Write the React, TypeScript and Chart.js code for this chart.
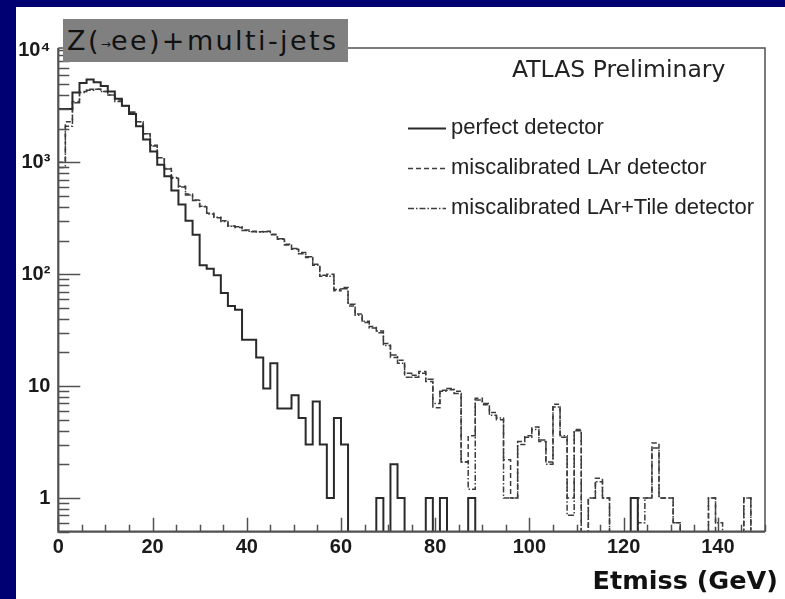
import React, { useEffect, useRef } from "react";
import { Chart, registerables } from "chart.js";

Chart.register(...registerables);

// ---------- data ----------
const BIN_WIDTH = 1.5; // GeV per bin, 100 bins from 0 to 150
const X_MIN = 0;
const X_MAX = 150;
const Y_MIN = 0.5;
const Y_MAX = 10500;
const X_TICKS = [0, 20, 40, 60, 80, 100, 120, 140];
const Y_TICKS = [1, 10, 100, 1000, 10000];
const Y_TICK_LABELS = ["1", "10", "10²", "10³", "10⁴"];
const SERIES_LABELS = [
  "perfect detector",
  "miscalibrated LAr detector",
  "miscalibrated LAr+Tile detector",
];

const perfect = [
  3000, 3000, 4200, 5100, 5500, 5200, 4800, 4300, 3700, 3200,
  2700, 2100, 1600, 1250, 950, 750, 560, 420, 300, 225,
  120, 112, 98, 68, 52, 48, 26, 26, 18, 9.5,
  16, 6.3, 6.3, 8.3, 5.2, 3, 7.3, 3, 1, 5.2,
  3, 0, 0, 0, 0, 1, 0, 2, 1, 0,
  0, 0, 1, 0, 1, 0, 0, 0, 1, 0,
  0, 0, 0, 0, 0, 0, 0, 0, 0, 0,
  0, 0, 0, 0, 0, 0, 0, 0, 0, 0,
  0, 1, 0, 0, 0, 0, 0, 0, 0, 0,
  0, 0, 0, 0, 0, 0, 0, 0, 0, 0,
];

const larMiscalibrated = [
  1000, 2300, 3500, 4300, 4500, 4500, 4300, 4000, 3600, 3200,
  2800, 2300, 1800, 1400, 1100, 880, 720, 610, 520, 460,
  400, 350, 320, 300, 270, 262, 248, 240, 240, 242,
  228, 205, 185, 167, 156, 141, 123, 96, 100, 71,
  76, 52, 44, 37, 34, 30, 24, 18, 17, 12,
  12.5, 13.5, 11, 6.4, 9.2, 9.3, 9, 2.1, 3.6, 7.8,
  6.8, 5.8, 5, 2.2, 1, 3, 3.6, 4.3, 3.2, 2.1,
  6.9, 3.5, 1, 4.1, 0, 1, 1.5, 1, 0, 0,
  0, 0, 1, 1, 3.1, 1, 1, 0.6, 0, 0,
  0, 0, 1, 0, 0, 0, 0, 1, 0, 0,
];

const larTileMiscalibrated = [
  900, 2100, 3400, 4200, 4400, 4500, 4300, 4000, 3500, 3200,
  2800, 2300, 1800, 1420, 1100, 870, 730, 600, 510, 455,
  405, 345, 322, 296, 268, 265, 246, 242, 238, 240,
  225, 207, 182, 170, 152, 143, 120, 98, 96, 73,
  74, 54, 43, 38, 33, 31, 23, 19, 16, 13,
  12, 13, 11.5, 7, 9, 9.5, 8.6, 2.1, 1.2, 7.5,
  7, 5.5, 5.2, 1, 1, 3.2, 3.5, 4.1, 3.3, 2,
  6.5, 3.6, 0.7, 4, 0, 1, 1.4, 1, 0, 0,
  0, 0, 0.6, 1, 2.8, 1, 1, 0.6, 0, 0,
  0, 0, 1, 0.6, 0, 0, 0, 1, 0, 0,
];

// ---------- styling ----------
const NAVY = "#000072";
const EMPTY_BIN_FLOOR = 0.2; // empty bins drop below the frame (clipped), like ROOT on log scale

function toSteps(values: number[]) {
  const pts = values.map((v, i) => ({ x: i * BIN_WIDTH, y: v > 0 ? v : EMPTY_BIN_FLOOR }));
  pts.push({ x: values.length * BIN_WIDTH, y: pts[pts.length - 1].y });
  return pts;
}

const LEGEND = { x0: 408, x1: 446, textX: 451, rows: [128, 168, 208] };

function drawFrameAndTicks(chart: any) {
  const { ctx, chartArea: a, scales } = chart;
  const xs = scales.x;
  const ys = scales.y;
  ctx.save();
  ctx.setLineDash([]);
  ctx.strokeStyle = "#505050";
  ctx.lineCap = "butt";
  // y ticks (inward, ROOT style)
  ctx.lineWidth = 1.5;
  for (let d = -1; d <= 4; d++) {
    for (let m = 1; m <= 9; m++) {
      const v = m * Math.pow(10, d);
      if (v < Y_MIN - 1e-9 || v > Y_MAX) continue;
      const py = Math.round(ys.getPixelForValue(v)) + 0.5;
      const len = m === 1 ? 22 : 11;
      ctx.beginPath();
      ctx.moveTo(a.left, py);
      ctx.lineTo(a.left + len, py);
      ctx.stroke();
    }
  }
  // x ticks (inward)
  for (let v = X_MIN; v <= X_MAX; v += 5) {
    const px = Math.round(xs.getPixelForValue(v)) + 0.5;
    const len = v % 20 === 0 ? 14 : 7;
    ctx.beginPath();
    ctx.moveTo(px, a.bottom);
    ctx.lineTo(px, a.bottom - len);
    ctx.stroke();
  }
  // top + right frame
  ctx.lineWidth = 1.5;
  ctx.beginPath();
  ctx.moveTo(a.left, a.top);
  ctx.lineTo(a.right, a.top);
  ctx.lineTo(a.right, a.bottom);
  ctx.stroke();
  // left + bottom axes
  ctx.lineWidth = 2.2;
  ctx.beginPath();
  ctx.moveTo(a.left, a.top);
  ctx.lineTo(a.left, a.bottom);
  ctx.lineTo(a.right, a.bottom);
  ctx.stroke();
  ctx.restore();
}

function drawLegend(chart: any) {
  const { ctx } = chart;
  ctx.save();
  chart.data.datasets.forEach((ds: any, i: number) => {
    const yy = LEGEND.rows[i];
    ctx.strokeStyle = ds.borderColor;
    ctx.lineWidth = ds.borderWidth;
    ctx.setLineDash(ds.borderDash || []);
    ctx.beginPath();
    ctx.moveTo(LEGEND.x0, yy + 0.5);
    ctx.lineTo(LEGEND.x1, yy + 0.5);
    ctx.stroke();
    ctx.setLineDash([]);
    ctx.fillStyle = "#222";
    ctx.font = "22px 'Liberation Sans', Arial, sans-serif";
    ctx.textBaseline = "middle";
    ctx.textAlign = "left";
    ctx.fillText(ds.label, LEGEND.textX, yy);
  });
  ctx.restore();
}

const rootFramePlugin = {
  id: "rootFrame",
  afterDraw(chart: any) {
    drawFrameAndTicks(chart);
    drawLegend(chart);
  },
};

export default function App() {
  const canvasRef = useRef<HTMLCanvasElement | null>(null);

  useEffect(() => {
    if (!canvasRef.current) return;
    const tickFont = { family: "'Liberation Sans', Arial, sans-serif", size: 20, weight: "bold" as const };
    const chart = new Chart(canvasRef.current, {
      type: "line",
      data: {
        datasets: [
          {
            label: SERIES_LABELS[0],
            data: toSteps(perfect),
            stepped: "before",
            borderColor: "#2a2a2a",
            borderWidth: 2,
            pointRadius: 0,
            fill: false,
            clip: 0,
          },
          {
            label: SERIES_LABELS[1],
            data: toSteps(larMiscalibrated),
            stepped: "before",
            borderColor: "#3c3c3c",
            borderWidth: 1.5,
            borderDash: [5, 3],
            pointRadius: 0,
            fill: false,
            clip: 0,
          },
          {
            label: SERIES_LABELS[2],
            data: toSteps(larTileMiscalibrated),
            stepped: "before",
            borderColor: "#3c3c3c",
            borderWidth: 1.5,
            borderDash: [6, 2, 1.5, 2],
            pointRadius: 0,
            fill: false,
            clip: 0,
          },
        ] as any,
      },
      options: {
        animation: false,
        responsive: false,
        events: [],
        layout: { padding: { left: 0, top: 48, right: 20, bottom: 0 } },
        plugins: { legend: { display: false }, tooltip: { enabled: false } },
        scales: {
          x: {
            type: "linear",
            min: X_MIN,
            max: X_MAX,
            grid: { display: false, drawTicks: false },
            border: { display: false },
            afterBuildTicks: (s: any) => {
              s.ticks = X_TICKS.map((v) => ({ value: v }));
            },
            afterFit: (s: any) => {
              s.height = 67.3;
            },
            ticks: {
              font: tickFont,
              color: "#1a1a1a",
              padding: 4,
              maxRotation: 0,
              autoSkip: false,
              callback: (v: any) => String(v),
            },
          },
          y: {
            type: "logarithmic",
            min: Y_MIN,
            max: Y_MAX,
            grid: { display: false, drawTicks: false },
            border: { display: false },
            afterBuildTicks: (s: any) => {
              s.ticks = Y_TICKS.map((v) => ({ value: v }));
            },
            afterFit: (s: any) => {
              s.width = 58.3;
            },
            ticks: {
              font: tickFont,
              color: "#1a1a1a",
              padding: 8,
              autoSkip: false,
              callback: (v: any) => {
                const idx = Y_TICKS.indexOf(Number(v));
                return idx >= 0 ? Y_TICK_LABELS[idx] : "";
              },
            },
          },
        },
      } as any,
      plugins: [rootFramePlugin],
    });
    return () => chart.destroy();
  }, []);

  return (
    <div
      style={{
        position: "absolute",
        left: 0,
        top: 0,
        width: 785,
        height: 599,
        background: NAVY,
        overflow: "hidden",
      }}
    >
      <div style={{ position: "absolute", left: 16, top: 7, width: 769, height: 592, background: "#ffffff" }} />
      <canvas
        ref={canvasRef}
        width={785}
        height={599}
        style={{ position: "absolute", left: 0, top: 0, width: 785, height: 599 }}
      />
      <div
        style={{
          position: "absolute",
          left: 63,
          top: 19,
          width: 285,
          height: 43,
          background: "#808080",
          display: "flex",
          alignItems: "center",
          paddingLeft: 4,
          boxSizing: "border-box",
          fontFamily: "'DejaVu Sans', sans-serif",
          fontSize: 27,
          letterSpacing: 2.4,
          color: "#111",
          whiteSpace: "nowrap",
        }}
      >
        Z(<span style={{ fontSize: 12, letterSpacing: 0, position: "relative", top: 3 }}>→</span>ee)+multi-jets
      </div>
      <div
        style={{
          position: "absolute",
          left: 512,
          top: 49,
          height: 40,
          display: "flex",
          alignItems: "center",
          fontFamily: "'DejaVu Sans', sans-serif",
          fontSize: 23.5,
          color: "#222",
          whiteSpace: "nowrap",
        }}
      >
        ATLAS Preliminary
      </div>
      <div
        style={{
          position: "absolute",
          right: 7,
          top: 560,
          height: 40,
          display: "flex",
          alignItems: "center",
          fontFamily: "'DejaVu Sans', sans-serif",
          fontWeight: "bold",
          fontSize: 25.5,
          color: "#111",
          whiteSpace: "nowrap",
        }}
      >
        Etmiss (GeV)
      </div>
    </div>
  );
}
